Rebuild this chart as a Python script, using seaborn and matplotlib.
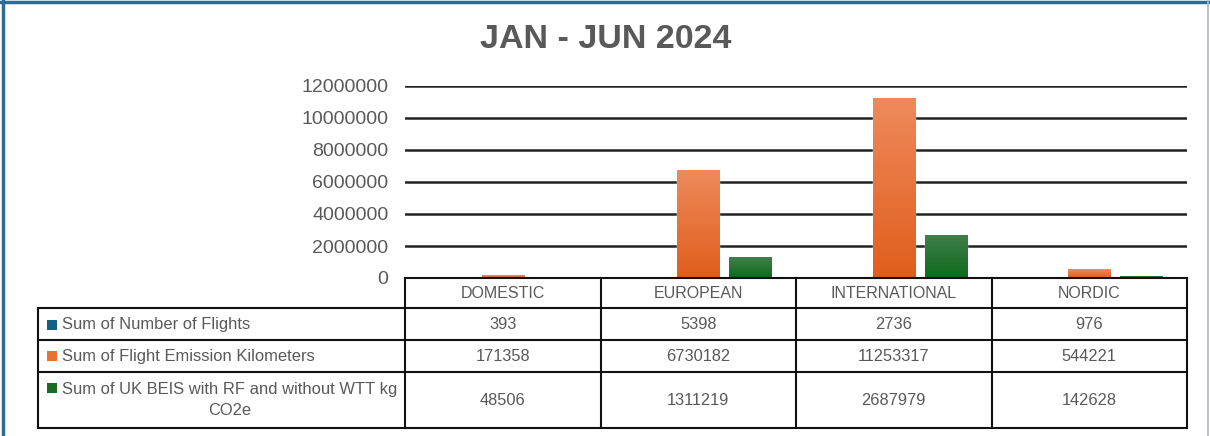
import numpy as np
import pandas as pd
import matplotlib
matplotlib.use("Agg")
import matplotlib.pyplot as plt
import seaborn as sns
from matplotlib.patches import Rectangle
from matplotlib.colors import LinearSegmentedColormap
from matplotlib.lines import Line2D
from matplotlib.transforms import blended_transform_factory

# data
regions = ["DOMESTIC", "EUROPEAN", "INTERNATIONAL", "NORDIC"]
series_names = [
    "Sum of Number of Flights",
    "Sum of Flight Emission Kilometers",
    "Sum of UK BEIS with RF and without WTT kg\nCO2e",
]
flights = [393, 5398, 2736, 976]
emission_km = [171358, 6730182, 11253317, 544221]
beis_co2e = [48506, 1311219, 2687979, 142628]
y_ticks = [0, 2000000, 4000000, 6000000, 8000000, 10000000, 12000000]

colors = ["#156082", "#E97132", "#196B24"]
grad = {
    "#156082": ("#2A76A0", "#115477"),
    "#E97132": ("#EE8A5C", "#E05E1C"),
    "#196B24": ("#427F4B", "#0C6A1C"),
}
text_grey = "#595959"

df = pd.DataFrame({
    "region": regions * 3,
    "series": [s for s in series_names for _ in regions],
    "value": flights + emission_km + beis_co2e,
})

sns.set_theme(style="white")
plt.rcParams["font.family"] = ["Liberation Sans", "DejaVu Sans"]

W, H = 1210, 436
fig = plt.figure(figsize=(W / 100, H / 100), dpi=100)
fig.patch.set_facecolor("white")


def fy(px):
    # pixel row (from top) -> figure fraction
    return 1 - px / H


# plot area in pixel terms
ax_l, ax_r, ax_t, ax_b = 405, 1187, 86, 278
ax = fig.add_axes([ax_l / W, fy(ax_b), (ax_r - ax_l) / W, (ax_b - ax_t) / H])

sns.barplot(data=df, x="region", y="value", hue="series", palette=colors,
            saturation=1, width=0.8, gap=0.19, legend=False, ax=ax, zorder=3)

ax.set_yticks(y_ticks)
ax.set_yticklabels([str(t) for t in y_ticks], color=text_grey, fontsize=14)
ax.tick_params(axis="y", length=0, pad=12)
ax.set_xticks([])
ax.set_xlabel("")
ax.set_ylabel("")
for sp in ax.spines.values():
    sp.set_visible(False)
for t in y_ticks[1:]:
    ax.axhline(t, color="#222222", lw=1.8, zorder=1)

# gradient fill on bars
for p in list(ax.patches):
    h = p.get_height()
    if h <= 0:
        continue
    fc = matplotlib.colors.to_hex(p.get_facecolor()).upper()
    top, bot = grad.get(fc, (fc, fc))
    cmap = LinearSegmentedColormap.from_list("g", [bot, top])
    x0 = p.get_x()
    img = ax.imshow(np.linspace(0, 1, 64).reshape(-1, 1), cmap=cmap, aspect="auto",
                    origin="lower", extent=[x0, x0 + p.get_width(), 0, h], zorder=4)
    img.set_clip_path(p)
ax.set_xlim(-0.5, len(regions) - 0.5)
ax.set_ylim(0, 12000000)

# data table drawn under the plot; columns follow the category axis
tr = blended_transform_factory(ax.transData, fig.transFigure)
line_kw = dict(color="#111111", lw=1.5, solid_capstyle="projecting")
row_edges = [278, 308, 340, 372, 428]
row_mid = [(a + b) / 2 for a, b in zip(row_edges[:-1], row_edges[1:])]
tbl_left = 38 / W
col_edges = [i - 0.5 for i in range(len(regions) + 1)]

for k, y in enumerate(row_edges):
    if k == 0:
        fig.add_artist(Line2D([col_edges[0], col_edges[-1]], [fy(y), fy(y)],
                              transform=tr, **line_kw))
    else:
        fig.add_artist(Line2D([tbl_left, ax_r / W], [fy(y), fy(y)],
                              transform=fig.transFigure, **line_kw))
fig.add_artist(Line2D([tbl_left, tbl_left], [fy(row_edges[1]), fy(row_edges[-1])],
                      transform=fig.transFigure, **line_kw))
for x in col_edges:
    fig.add_artist(Line2D([x, x], [fy(row_edges[0]), fy(row_edges[-1])],
                          transform=tr, **line_kw))

for i, name in enumerate(regions):
    fig.text(i, fy(row_mid[0]), name, transform=tr, ha="center", va="center",
             fontsize=11.5, color=text_grey)

for r, vals in enumerate([flights, emission_km, beis_co2e]):
    ym = fy(row_mid[r + 1])
    for i, v in enumerate(vals):
        fig.text(i, ym, str(v), transform=tr, ha="center", va="center",
                 fontsize=11.8, color=text_grey)
    fig.text(62 / W, ym, series_names[r], ha="left", va="center",
             multialignment="center", linespacing=1.45,
             fontsize=11.9, color=text_grey)

# legend keys beside row labels
for col, yc in zip(colors, [324.5, 356, 387.5]):
    fig.patches.append(Rectangle((47 / W, fy(yc + 5)), 10 / W, 10 / H,
                                 transform=fig.transFigure, facecolor=col,
                                 edgecolor="none"))

fig.text(606 / W, fy(40), "JAN - JUN 2024", ha="center", va="center",
         fontsize=24.5, fontweight="bold", color=text_grey)

# outer frame
fig.add_artist(Line2D([0, 1], [fy(2), fy(2)], transform=fig.transFigure,
                      color="#2E6C94", lw=2.5))
fig.add_artist(Line2D([3 / W, 3 / W], [0, 1], transform=fig.transFigure,
                      color="#2E6C94", lw=2.5))
fig.add_artist(Line2D([1208 / W, 1208 / W], [0, 1], transform=fig.transFigure,
                      color="#A9BFCC", lw=1.2))

fig.savefig("out.png", dpi=100)
